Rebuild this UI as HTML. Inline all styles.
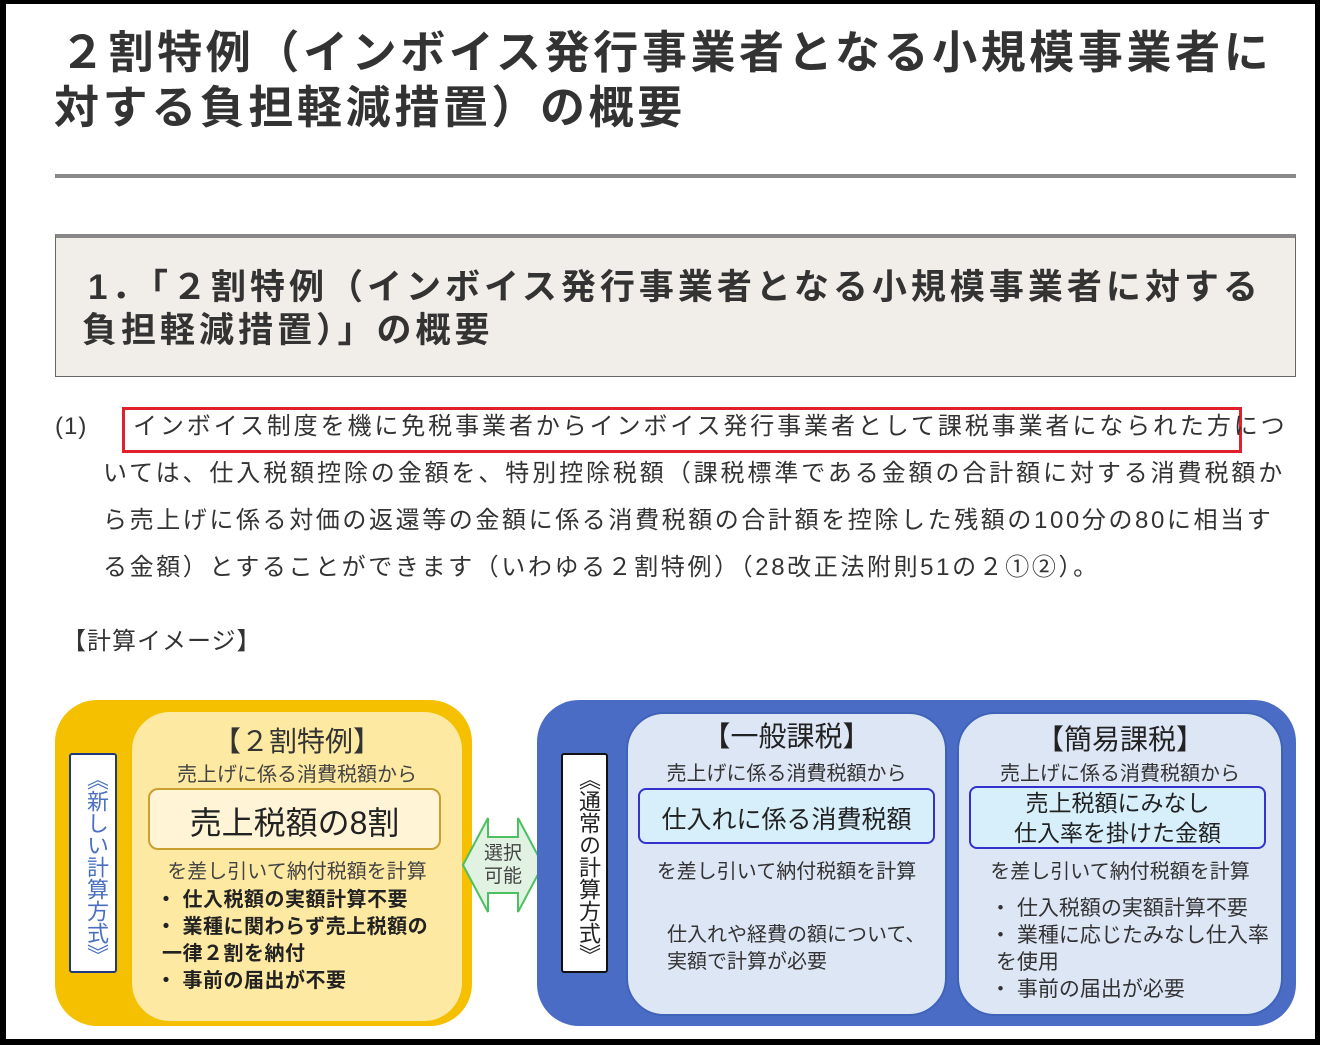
<!DOCTYPE html>
<html><head><meta charset="utf-8">
<style>
*{margin:0;padding:0;box-sizing:border-box}
body{width:1325px;height:1045px;background:#fff;position:relative;overflow:hidden;font-family:"Liberation Sans","Noto Sans CJK JP",sans-serif;color:#333}
.a{position:absolute;white-space:nowrap}
.frame{position:absolute;left:0;top:0;width:1320px;height:1045px;border-left:6px solid #000;border-top:4px solid #000;border-right:5px solid #000;border-bottom:6px solid #000}
.t{font-weight:bold;font-size:45px;letter-spacing:3.6px;line-height:56px;color:#333}
.h{font-weight:bold;font-size:35px;letter-spacing:4px;color:#333}
.p{font-size:24px;letter-spacing:2.9px;color:#333;line-height:30px}
.c{text-align:center;white-space:nowrap;position:absolute}
.v{writing-mode:vertical-rl;font-size:22px;letter-spacing:0px}
</style></head><body>
<div class="frame"></div>
<div class="a t" style="left:60px;top:25px">２割特例（インボイス発行事業者となる小規模事業者に</div>
<div class="a t" style="left:54px;top:80px">対する負担軽減措置）の概要</div>
<div class="a" style="left:55px;top:174px;width:1241px;height:4px;background:#888"></div>
<div class="a" style="left:55px;top:234px;width:1241px;height:143px;background:#f1ede8;border:1px solid #666;border-top:4px solid #888"></div>
<div class="a h" style="left:88px;top:259px">1．「２割特例（インボイス発行事業者となる小規模事業者に対する</div>
<div class="a h" style="left:82px;top:302px">負担軽減措置）」の概要</div>

<div class="a p" style="left:55px;top:412px;letter-spacing:1px">(1)</div>
<div class="a" style="left:122px;top:407px;width:1120px;height:46px;border:3px solid #e0202a"></div>
<div class="a p" style="left:133px;top:412px">インボイス制度を機に免税事業者からインボイス発行事業者として課税事業者になられた方につ</div>
<div class="a p" style="left:103px;top:459px">いては、仕入税額控除の金額を、特別控除税額（課税標準である金額の合計額に対する消費税額か</div>
<div class="a p" style="left:103px;top:506px;letter-spacing:2.6px">ら売上げに係る対価の返還等の金額に係る消費税額の合計額を控除した残額の100分の80に相当す</div>
<div class="a p" style="left:103px;top:553px;letter-spacing:2.6px">る金額）とすることができます（いわゆる２割特例）（28改正法附則51の２①②）。</div>
<div class="a p" style="left:62px;top:627px;letter-spacing:1px">【計算イメージ】</div>

<!-- yellow -->
<div class="a" style="left:55px;top:700px;width:417px;height:326px;background:#f5c000;border-radius:42px"></div>
<div class="a" style="left:132px;top:712px;width:330px;height:309px;background:#fde9a2;border-radius:38px"></div>
<div class="a" style="left:69px;top:753px;width:48px;height:220px;background:#fff;border:2px solid #1f3a78;border-radius:3px"></div>
<div class="a v" style="left:80px;top:768px;color:#4a6fc0">《新しい計算方式》</div>
<div class="c" style="left:132px;width:330px;top:720px;font-size:28px">【２割特例】</div>
<div class="c" style="left:132px;width:330px;top:758px;font-size:20px;color:#444">売上げに係る消費税額から</div>
<div class="a" style="left:148px;top:788px;width:293px;height:62px;background:#fff4d6;border:2px solid #c9a030;border-radius:10px"></div>
<div class="c" style="left:148px;width:293px;top:798px;font-size:32px;color:#222">売上税額の8割</div>
<div class="c" style="left:132px;width:330px;top:855px;font-size:20px;color:#444">を差し引いて納付税額を計算</div>
<div class="a" style="left:156px;top:887px;font-size:20px;font-weight:bold;line-height:27px;color:#222;letter-spacing:0.5px">・&nbsp;仕入税額の実額計算不要<br>・&nbsp;業種に関わらず売上税額の<br>&nbsp;一律２割を納付<br>・&nbsp;事前の届出が不要</div>

<!-- arrow -->
<svg class="a" style="left:460px;top:815px" width="86" height="100"><polygon points="3,50 28,3 28,22 58,22 58,3 83,50 58,97 58,78 28,78 28,97" fill="#e2f2e2" stroke="#4cc060" stroke-width="2"/></svg>
<div class="c" style="left:470px;width:66px;top:842px;font-size:19px;line-height:23px;color:#444">選択<br>可能</div>

<!-- blue -->
<div class="a" style="left:537px;top:700px;width:759px;height:326px;background:#4a6cc4;border-radius:42px"></div>
<div class="a" style="left:626px;top:712px;width:321px;height:304px;background:#dde6f5;border:2px solid #3f63b8;border-radius:38px"></div>
<div class="a" style="left:957px;top:712px;width:326px;height:304px;background:#dde6f5;border:2px solid #3f63b8;border-radius:38px"></div>
<div class="a" style="left:561px;top:753px;width:47px;height:220px;background:#fff;border:2px solid #111;border-radius:3px"></div>
<div class="a v" style="left:572px;top:768px;color:#222">《通常の計算方式》</div>
<div class="c" style="left:626px;width:321px;top:715px;font-size:28px;color:#222">【一般課税】</div>
<div class="c" style="left:626px;width:321px;top:757px;font-size:20px;color:#333">売上げに係る消費税額から</div>
<div class="a" style="left:638px;top:788px;width:297px;height:56px;background:#d6effb;border:2px solid #3333cc;border-radius:8px"></div>
<div class="c" style="left:638px;width:297px;top:800px;font-size:25px;color:#222">仕入れに係る消費税額</div>
<div class="c" style="left:626px;width:321px;top:855px;font-size:20px;color:#333">を差し引いて納付税額を計算</div>
<div class="a" style="left:667px;top:922px;font-size:20px;line-height:27px;color:#333">仕入れや経費の額について、<br>実額で計算が必要</div>

<div class="c" style="left:957px;width:326px;top:718px;font-size:28px;color:#222">【簡易課税】</div>
<div class="c" style="left:957px;width:326px;top:757px;font-size:20px;color:#333">売上げに係る消費税額から</div>
<div class="a" style="left:969px;top:786px;width:297px;height:63px;background:#d6effb;border:2px solid #3333cc;border-radius:8px"></div>
<div class="c" style="left:969px;width:297px;top:788px;font-size:23px;line-height:30px;color:#222">売上税額にみなし<br>仕入率を掛けた金額</div>
<div class="c" style="left:957px;width:326px;top:855px;font-size:20px;color:#333">を差し引いて納付税額を計算</div>
<div class="a" style="left:990px;top:895px;font-size:21px;line-height:27px;color:#333">・&nbsp;仕入税額の実額計算不要<br>・&nbsp;業種に応じたみなし仕入率<br>&nbsp;を使用<br>・&nbsp;事前の届出が必要</div>
</body></html>
